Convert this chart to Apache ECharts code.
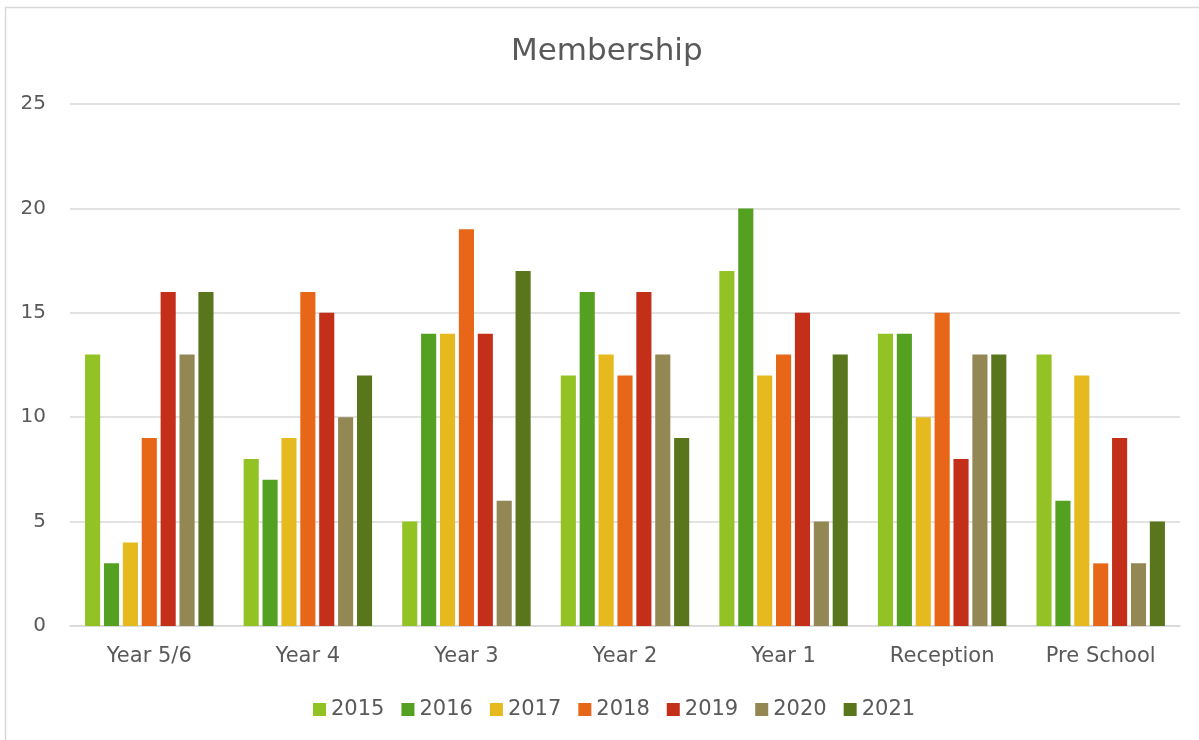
<!DOCTYPE html>
<html><head><meta charset="utf-8">
<script src="https://cdn.jsdelivr.net/npm/echarts@6/dist/echarts.min.js"></script>
<style>html,body{margin:0;padding:0;background:#fff}#c{width:1199px;height:740px}</style>
</head><body><div id="c"></div>
<script>
const categories = ['Year 5/6','Year 4','Year 3','Year 2','Year 1','Reception','Pre School'];
const seriesNames = ['2015','2016','2017','2018','2019','2020','2021'];
const s2015 = [13,8,5,12,17,14,13];
const s2016 = [3,7,14,16,20,14,6];
const s2017 = [4,9,14,13,12,10,12];
const s2018 = [9,16,19,12,13,15,3];
const s2019 = [16,15,14,16,15,8,9];
const s2020 = [13,10,6,13,5,13,3];
const s2021 = [16,12,17,9,13,13,5];
const colors = ['#93C225','#54A021','#E6B91E','#E76618','#C42F1A','#938754','#5A761C'];
const values = [s2015,s2016,s2017,s2018,s2019,s2020,s2021];
const font = "'DejaVu Sans', sans-serif";
const chart = echarts.init(document.getElementById('c'), null, {renderer:'canvas'});
chart.setOption({
  animation:false,
  backgroundColor:'#fff',
  color: colors,
  graphic:[{type:'rect',shape:{x:5.5,y:7.5,width:1200,height:740},style:{fill:'none',stroke:'#d9d9d9',lineWidth:1.5},silent:true,z:-1}],
  title:{text:'Membership',left:506,top:31,textStyle:{fontFamily:font,fontWeight:'normal',fontSize:31,color:'#595959'}},
  legend:{data:seriesNames,bottom:15,left:308,itemWidth:13,itemHeight:13,itemGap:17,icon:'rect',
    textStyle:{fontFamily:font,fontSize:21,color:'#595959'}},
  grid:{left:70,right:19,top:104,bottom:114},
  xAxis:{type:'category',data:categories,axisTick:{show:false},
    axisLine:{lineStyle:{color:'#d9d9d9',width:1.5}},
    axisLabel:{fontFamily:font,fontSize:21,color:'#595959',margin:20}},
  yAxis:{type:'value',min:0,max:25,interval:5,
    axisLabel:{fontFamily:font,fontSize:20,color:'#595959',margin:24},
    splitLine:{lineStyle:{color:'#d9d9d9',width:1.5}},axisLine:{show:false},axisTick:{show:false}},
  series: seriesNames.map((n,i)=>({name:n,type:'bar',data:values[i],barGap:'25%',barCategoryGap:'19%',
    itemStyle:{color:colors[i]}}))
});
</script></body></html>
